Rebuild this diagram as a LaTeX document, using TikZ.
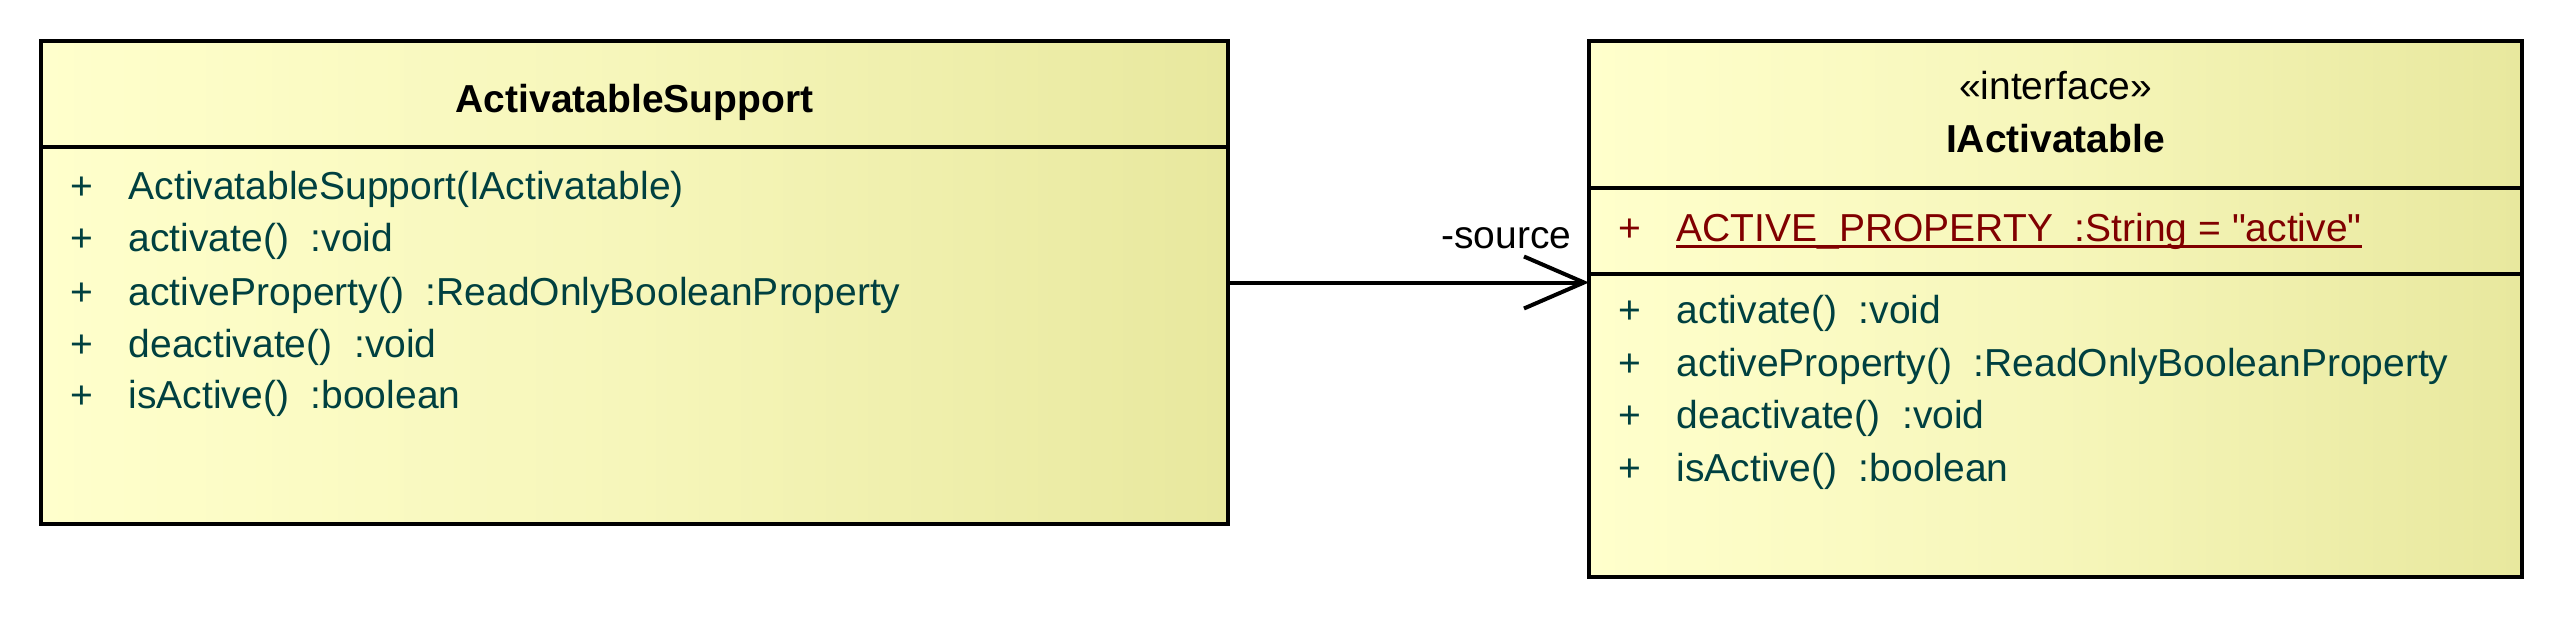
\documentclass[tikz,border=0pt]{standalone}
\usepackage{fontspec}
\setmainfont{Liberation Sans}
\newfontfamily\umlfont{Liberation Sans}
\usetikzlibrary{arrows.meta}
\definecolor{txt}{RGB}{0,64,64}
\definecolor{attr}{RGB}{128,0,0}
\definecolor{fillL}{RGB}{255,255,204}
\definecolor{fillM}{RGB}{246,246,186}
\definecolor{fillR}{RGB}{232,232,158}
\pgfdeclarehorizontalshading{umlfill}{100bp}{color(0bp)=(fillL); color(25bp)=(fillL); color(50bp)=(fillM); color(75bp)=(fillR); color(100bp)=(fillR)}
\begin{document}
\begin{tikzpicture}[x=0.25pt,y=-0.25pt,
  classbox/.style={draw=black, line width=1pt, shading=umlfill, inner sep=0pt, outer sep=0pt},
  divider/.style={draw=black, line width=0.9pt},
  basefont/.style={font=\umlfont\fontsize{9.75}{12}\selectfont},
  member/.style={basefont, anchor=base west, inner sep=0pt, text=txt},
  attrib/.style={basefont, anchor=base west, inner sep=0pt, text=attr},
  uline/.style={draw=attr, line width=0.75pt},
  title/.style={basefont, anchor=base, inner sep=0pt, text=black},
  lbl/.style={basefont, inner sep=0pt, text=black},
  assoc/.style={line width=1pt, -{Straight Barb[length=15pt,width=13pt]}}]
\useasboundingbox (0,0) rectangle (2568,620);

% class boxes
\node[classbox, minimum width=296.75pt, minimum height=120.75pt] (sup) at (634.5,282.5) {};
\node[classbox, minimum width=233.25pt, minimum height=134pt] (ia) at (2055.5,309) {};

% dividers
\coordinate (dA) at (0,147);
\coordinate (dB) at (0,188);
\coordinate (dC) at (0,274);
\draw[divider] (sup.west |- dA) -- (sup.east |- dA);
\draw[divider] (ia.west |- dB) -- (ia.east |- dB);
\draw[divider] (ia.west |- dC) -- (ia.east |- dC);

% ActivatableSupport
\node[title] (t1) at (634.5,113) {\bfseries ActivatableSupport};
\node[member] (p1) at (70,200) {+};
\node[member] (m1) at (128,200) {ActivatableSupport(IActivatable)};
\node[member] (p2) at (70,252) {+};
\node[member] (m2) at (128,252) {activate()\ \ :void};
\node[member] (p3) at (70,305) {+};
\node[member] (m3) at (128,305) {activeProperty()\ \ :ReadOnlyBooleanProperty};
\node[member] (p4) at (70,357) {+};
\node[member] (m4) at (128,357) {deactivate()\ \ :void};
\node[member] (p5) at (70,408) {+};
\node[member] (m5) at (128,408) {isActive()\ \ :boolean};

% IActivatable
\node[title] (st) at (2055.5,100) {«interface»};
\node[title] (t2) at (2055.5,152) {\bfseries IActivatable};
\node[attrib] (ap) at (1618,241) {+};
\node[attrib] (a1) at (1676,241) {ACTIVE\_PROPERTY\ \ :String = "active"};
\draw[uline] ([yshift=-1.5pt]a1.base west) -- ([yshift=-1.5pt]a1.base east);
\node[member] (q1) at (1618,324) {+};
\node[member] (n1) at (1676,324) {activate()\ \ :void};
\node[member] (q2) at (1618,376) {+};
\node[member] (n2) at (1676,376) {activeProperty()\ \ :ReadOnlyBooleanProperty};
\node[member] (q3) at (1618,428) {+};
\node[member] (n3) at (1676,428) {deactivate()\ \ :void};
\node[member] (q4) at (1618,481) {+};
\node[member] (n4) at (1676,481) {isActive()\ \ :boolean};

% association
\draw[assoc] (sup.east) -- (sup.east -| ia.west);
\node[lbl, anchor=base east] (src) at (1572,249) {-source};
\end{tikzpicture}
\end{document}
